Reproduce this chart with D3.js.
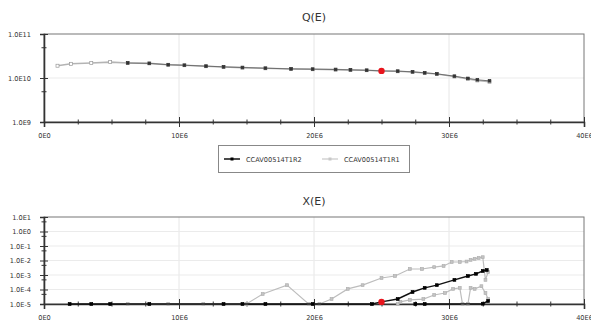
<!DOCTYPE html>
<html><head><meta charset="utf-8">
<script src="https://d3js.org/d3.v7.min.js"></script>
<style>
body{margin:0;background:#fff;}
svg{display:block;font-family:"DejaVu Sans",sans-serif;}
</style></head>
<body>
<svg id="c" width="591" height="322"></svg>
<script>
// ---------- data ----------
const seriesNames = ["CCAV00514T1R2", "CCAV00514T1R1"];
const xTickValues = [0, 10e6, 20e6, 30e6, 40e6];
const xTickLabels = ["0E0", "10E6", "20E6", "30E6", "40E6"];
const qTickValues = [1e9, 1e10, 1e11];
const qTickLabels = ["1.0E9", "1.0E10", "1.0E11"];
const xeTickValues = [1e-5, 1e-4, 1e-3, 1e-2, 1e-1, 1e0, 1e1];
const xeTickLabels = ["1.0E-5", "1.0E-4", "1.0E-3", "1.0E-2", "1.0E-1", "1.0E0", "1.0E1"];

// Q(E)
const qE_R1 = [1.0e6, 2.0e6, 3.5e6, 4.9e6, 6.2e6, 7.8e6, 9.2e6, 10.4e6, 12.0e6, 13.3e6, 14.7e6, 16.4e6, 18.3e6, 19.9e6, 21.6e6, 22.7e6, 23.9e6, 25.0e6, 26.2e6, 27.3e6, 28.2e6, 29.1e6, 30.4e6, 31.4e6, 32.1e6, 33.0e6];
const qV_R1 = [1.9e10, 2.1e10, 2.2e10, 2.3e10, 2.2e10, 2.15e10, 2.0e10, 1.95e10, 1.85e10, 1.78e10, 1.72e10, 1.66e10, 1.6e10, 1.58e10, 1.55e10, 1.52e10, 1.5e10, 1.44e10, 1.42e10, 1.37e10, 1.3e10, 1.23e10, 1.08e10, 9.5e9, 8.8e9, 8.2e9];
const qE_R2 = [6.2e6, 7.8e6, 9.2e6, 10.4e6, 12.0e6, 13.3e6, 14.7e6, 16.4e6, 18.3e6, 19.9e6, 21.6e6, 22.7e6, 23.9e6, 25.0e6, 26.2e6, 27.3e6, 28.2e6, 29.1e6, 30.4e6, 31.4e6, 32.1e6, 33.0e6];
const qV_R2 = [2.2e10, 2.15e10, 2.0e10, 1.95e10, 1.86e10, 1.79e10, 1.73e10, 1.67e10, 1.61e10, 1.59e10, 1.56e10, 1.53e10, 1.5e10, 1.45e10, 1.43e10, 1.38e10, 1.31e10, 1.24e10, 1.1e10, 9.8e9, 9.1e9, 8.6e9];

// X(E)
const xE_R2a = [1.9e6, 3.5e6, 4.9e6, 7.8e6, 13.3e6, 14.7e6, 16.4e6, 19.9e6, 24.3e6, 25.0e6, 26.2e6, 27.3e6, 28.2e6, 29.1e6, 30.4e6, 31.4e6, 32.0e6, 32.5e6, 32.8e6];
const xV_R2a = [1e-5, 1e-5, 1e-5, 1e-5, 1e-5, 1e-5, 1e-5, 1e-5, 1e-5, 1.4e-5, 2.2e-5, 6.7e-5, 1.3e-4, 2.0e-4, 4.6e-4, 8.5e-4, 1.2e-3, 1.9e-3, 2.2e-3];
const xE_R2b = [27.5e6, 28.2e6, 32.5e6, 32.9e6];
const xV_R2b = [1e-5, 1e-5, 1.05e-5, 1.6e-5];
const xE_R1a = [6.2e6, 9.2e6, 11.8e6, 15.0e6, 16.2e6, 18.0e6, 19.6e6, 20.4e6, 21.3e6, 22.5e6, 23.6e6, 25.0e6, 26.0e6, 27.1e6, 28.0e6, 28.9e6, 29.6e6, 30.2e6, 30.8e6, 31.3e6, 31.6e6, 31.9e6, 32.2e6, 32.5e6, 32.7e6, 32.9e6];
const xV_R1a = [1e-5, 1e-5, 1e-5, 1e-5, 4.9e-5, 2.0e-4, 1e-5, 1e-5, 2.2e-5, 1.1e-4, 2.0e-4, 6.2e-4, 8.5e-4, 2.6e-3, 2.6e-3, 3.5e-3, 4.2e-3, 7.9e-3, 7.9e-3, 8.5e-3, 1.1e-2, 1.3e-2, 1.5e-2, 1.7e-2, 4.6e-4, 1.6e-3];
const xE_R1b = [26.2e6, 26.4e6, 27.1e6, 28.1e6, 28.9e6, 29.7e6, 30.3e6, 30.8e6, 31.0e6, 31.4e6, 31.6e6, 31.9e6, 32.4e6, 32.7e6, 32.9e6];
const xV_R1b = [1e-5, 1.4e-5, 1.9e-5, 2.2e-5, 4.2e-5, 5.7e-5, 1.1e-4, 1.3e-4, 1e-5, 1e-5, 1.3e-4, 1.1e-4, 1.7e-4, 5.7e-5, 2.2e-5];

const highlightE = 25.0e6;
const highlightQ = 1.45e10;
const highlightX = 1.4e-5;

// ---------- drawing ----------
const svg = d3.select("#c");
const X0 = 44, X1 = 584;
const zip = (a, b) => a.map((v, i) => [v, b[i]]);

function panel(top, bottom, yDomain, yTicks, yLabels, yGrid, title, titleY, lines, hl) {
  const x = d3.scaleLinear().domain([0, 40e6]).range([X0, X1]);
  const y = d3.scaleLog().domain(yDomain).range([bottom, top]);
  const g = svg.append("g");

  g.append("g").selectAll("line").data([10e6, 20e6, 30e6]).join("line")
    .attr("x1", d => x(d)).attr("x2", d => x(d)).attr("y1", top).attr("y2", bottom)
    .attr("stroke", "#e6e6e6").attr("stroke-width", 1);
  g.append("g").selectAll("line").data(yGrid).join("line")
    .attr("x1", X0).attr("x2", X1).attr("y1", d => y(d)).attr("y2", d => y(d))
    .attr("stroke", "#ebebeb").attr("stroke-width", 1);

  g.append("rect").attr("x", X0).attr("y", top).attr("width", X1 - X0).attr("height", bottom - top)
    .attr("fill", "none").attr("stroke", "#777").attr("stroke-width", 1);

  const minorX = d3.range(0, 40e6 + 1, 2.5e6).filter(v => v % 10e6 !== 0);
  const mx = g.append("g").attr("transform", `translate(0,${bottom})`)
    .call(d3.axisBottom(x).tickValues(minorX).tickFormat("").tickSize(3));
  mx.select(".domain").remove();
  mx.selectAll(".tick line").attr("y1", -2.5).attr("y2", 2.5).attr("stroke", "#333");

  const ax = g.append("g").attr("transform", `translate(0,${bottom})`)
    .call(d3.axisBottom(x).tickValues(xTickValues).tickFormat((d, i) => xTickLabels[i]).tickSize(5));
  ax.select(".domain").attr("stroke", "#333").attr("stroke-width", 1.6);
  ax.selectAll(".tick line").attr("y1", -5).attr("y2", 5).attr("stroke", "#333");
  ax.selectAll(".tick text").attr("y", 16).attr("dy", 0).attr("font-size", 6.6)
    .attr("fill", "#333").attr("font-family", "DejaVu Sans");

  const minorY = yTicks.slice(0, -1).map(v => v * 5);
  const my = g.append("g").attr("transform", `translate(${X0},0)`)
    .call(d3.axisLeft(y).tickValues(minorY).tickFormat("").tickSize(3));
  my.select(".domain").remove();
  my.selectAll(".tick line").attr("x1", -2.5).attr("x2", 2.5).attr("stroke", "#333");

  const ay = g.append("g").attr("transform", `translate(${X0},0)`)
    .call(d3.axisLeft(y).tickValues(yTicks).tickFormat((d, i) => yLabels[i]).tickSize(4));
  ay.select(".domain").attr("stroke", "#333").attr("stroke-width", 1.6);
  ay.selectAll(".tick line").attr("x1", -4).attr("x2", 4).attr("stroke", "#333");
  ay.selectAll(".tick text").attr("x", -13).attr("dy", "0.35em").attr("font-size", 6.6)
    .attr("fill", "#333").attr("font-family", "DejaVu Sans");

  g.append("text").attr("x", (X0 + X1) / 2).attr("y", titleY).attr("text-anchor", "middle")
    .attr("font-size", 11).attr("fill", "#333").text(title);

  const line = d3.line().x(d => x(d[0])).y(d => y(d[1]));
  lines.forEach(s => {
    g.append("path").datum(s.pts).attr("d", line).attr("fill", "none")
      .attr("stroke", s.color).attr("stroke-width", s.w);
    const m = s.m;
    g.append("g").selectAll("rect").data(s.pts).join("rect")
      .attr("x", d => x(d[0]) - m / 2).attr("y", d => y(d[1]) - m / 2)
      .attr("width", m).attr("height", m)
      .attr("fill", s.fill).attr("stroke", s.mstroke).attr("stroke-width", 0.7);
  });
  g.append("circle").attr("cx", x(hl[0])).attr("cy", y(hl[1])).attr("r", 3.2).attr("fill", "#e8141c");
}

panel(34, 122, [1e9, 1e11], qTickValues, qTickLabels, [1e10], "Q(E)", 21, [
  {pts: zip(qE_R1, qV_R1), color: "#b4b4b4", w: 1.6, fill: "#fff", mstroke: "#999", m: 3},
  {pts: zip(qE_R2, qV_R2), color: "#666", w: 0.9, fill: "#333", mstroke: "#333", m: 2.6}
], [highlightE, highlightQ]);

panel(217, 304, [1e-5, 1e1], xeTickValues, xeTickLabels, xeTickValues.slice(1, -1), "X(E)", 205, [
  {pts: zip(xE_R1a, xV_R1a), color: "#bdbdbd", w: 1.2, fill: "#c4c4c4", mstroke: "#b0b0b0", m: 2.8},
  {pts: zip(xE_R1b, xV_R1b), color: "#bdbdbd", w: 1.2, fill: "#c4c4c4", mstroke: "#b0b0b0", m: 2.8},
  {pts: zip(xE_R2a, xV_R2a), color: "#111", w: 1.5, fill: "#000", mstroke: "#000", m: 2.8},
  {pts: zip(xE_R2b, xV_R2b), color: "#111", w: 1.5, fill: "#000", mstroke: "#000", m: 2.8}
], [highlightE, highlightX]);

// legend
const lg = svg.append("g");
lg.append("rect").attr("x", 218.5).attr("y", 145.5).attr("width", 191).attr("height", 27)
  .attr("fill", "#fff").attr("stroke", "#888").attr("stroke-width", 1);
const legendItems = [
  {name: seriesNames[0], x: 224, color: "#111", fill: "#000", w: 1.5},
  {name: seriesNames[1], x: 322, color: "#c8c8c8", fill: "#c8c8c8", w: 1.2}
];
legendItems.forEach(it => {
  lg.append("line").attr("x1", it.x).attr("x2", it.x + 16).attr("y1", 159).attr("y2", 159)
    .attr("stroke", it.color).attr("stroke-width", it.w);
  lg.append("rect").attr("x", it.x + 6.5).attr("y", 157.5).attr("width", 3).attr("height", 3).attr("fill", it.fill);
  lg.append("text").attr("x", it.x + 22).attr("y", 161.5).attr("font-size", 6.6).attr("fill", "#333").text(it.name);
});
</script>
</body></html>
